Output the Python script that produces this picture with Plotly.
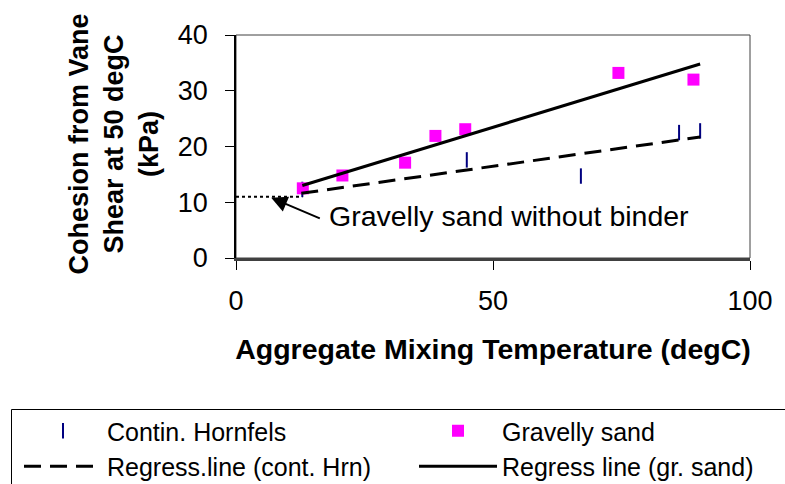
import plotly.graph_objects as go

# ---- data ----
hornfels_x = [12.9, 44.9, 67.1, 86.2, 90.3]
hornfels_y = [12.3, 17.6, 14.7, 22.5, 22.8]

sand_x = [13.0, 20.7, 32.9, 38.8, 44.6, 74.4, 89.0]
sand_y = [12.5, 14.8, 17.1, 21.9, 23.1, 33.2, 32.0]

reg_hrn_x = [12.7, 90.3]
reg_hrn_y = [11.6, 21.7]

reg_sand_x = [12.9, 90.3]
reg_sand_y = [13.0, 34.8]

nobinder_x = [0, 12.9]
nobinder_y = [11.0, 11.0]

x_ticks = [0, 50, 100]
y_ticks = [0, 10, 20, 30, 40]

FONT = "Arial, 'Liberation Sans', sans-serif"

# plot-area geometry (pixels)
W, H = 785, 484
ML, MR, MT, MB = 236, 35, 35, 226
PW, PH = W - ML - MR, H - MT - MB

fig = go.Figure()

fig.add_trace(go.Scatter(
    x=hornfels_x, y=hornfels_y, mode="markers", name="Contin. Hornfels", legend="legend",
    marker=dict(symbol="line-ns", size=11, line=dict(color="#000080", width=2)),
))
fig.add_trace(go.Scatter(
    x=sand_x, y=sand_y, mode="markers", name="Gravelly sand", legend="legend2",
    marker=dict(symbol="square", size=12, color="#FF00FF", line=dict(width=0)),
))
fig.add_trace(go.Scatter(
    x=reg_hrn_x, y=reg_hrn_y, mode="lines", name="Regress.line (cont. Hrn)", legend="legend",
    line=dict(color="black", width=3, dash="17px,9px"),
))
fig.add_trace(go.Scatter(
    x=reg_sand_x, y=reg_sand_y, mode="lines", name="Regress line (gr. sand)", legend="legend2",
    line=dict(color="black", width=3),
))
fig.add_trace(go.Scatter(
    x=nobinder_x, y=nobinder_y, mode="lines", showlegend=False,
    line=dict(color="black", width=2, dash="dot"),
))

fig.add_annotation(
    x=6.85, y=10.8, ax=16.6, ay=7.0, xref="x", yref="y", axref="x", ayref="y",
    text="", showarrow=True, arrowhead=2, arrowsize=1.6, arrowwidth=2, arrowcolor="black",
)
fig.add_annotation(
    x=17.8, y=7.6, xref="x", yref="y", text="Gravelly sand without binder",
    showarrow=False, xanchor="left", yanchor="middle",
    font=dict(family=FONT, size=28.5, color="black"),
)
# y-axis title (rotated, three centred lines)
fig.add_annotation(
    x=(113.5 - ML) / PW, y=(PH - (144 - MT)) / PH, xref="paper", yref="paper",
    text="<b>Cohesion from Vane<br>Shear at 50 degC<br>(kPa)</b>", textangle=-90,
    showarrow=False, xanchor="center", yanchor="middle", align="center",
    font=dict(family=FONT, size=27, color="black"),
)

# plot frame
fig.add_shape(type="rect", xref="paper", yref="paper", x0=0, x1=1, y0=0, y1=1,
              line=dict(color="#404040", width=1), layer="below")
# legend frame (runs off the right and bottom edges, as in the reference)
fig.add_shape(type="rect", xref="paper", yref="paper",
              x0=(11.5 - ML) / PW, x1=(W + 10 - ML) / PW,
              y0=(PH - (H + 10 - MT)) / PH, y1=(PH - (409.5 - MT)) / PH,
              line=dict(color="black", width=1), fillcolor="rgba(0,0,0,0)", layer="below")

leg_common = dict(
    orientation="v", xref="container", yref="container", y=1 - 408 / H,
    xanchor="left", yanchor="top", borderwidth=0, bgcolor="rgba(0,0,0,0)",
    font=dict(family=FONT, size=25, color="black"), itemwidth=78, tracegroupgap=0,
)

fig.update_layout(
    width=W, height=H,
    margin=dict(l=ML, r=MR, t=MT, b=MB, autoexpand=False),
    paper_bgcolor="white", plot_bgcolor="white",
    font=dict(family=FONT, color="black"),
    showlegend=True,
    legend=dict(x=19 / W, **leg_common),
    legend2=dict(x=414 / W, **leg_common),
    xaxis=dict(
        range=[0, 100], tickvals=x_ticks, ticktext=[str(v) for v in x_ticks],
        showgrid=False, zeroline=False, showline=True, linecolor="#404040", linewidth=2.5,
        ticks="outside", ticklen=9, tickcolor="black", tickwidth=1,
        tickfont=dict(family=FONT, size=27, color="black"),
        ticklabelstandoff=8, automargin=True,
        title=dict(text="<b>Aggregate Mixing Temperature (degC)</b>",
                   font=dict(family=FONT, size=28.5, color="black"), standoff=24),
    ),
    yaxis=dict(
        range=[0, 40], tickvals=y_ticks, ticktext=[str(v) for v in y_ticks],
        showgrid=False, zeroline=False, showline=True, linecolor="black", linewidth=1.5,
        ticks="outside", ticklen=9, tickcolor="black", tickwidth=1,
        tickfont=dict(family=FONT, size=27, color="black"),
        ticklabelstandoff=12, automargin=False,
    ),
)

fig.write_html("out.html")
